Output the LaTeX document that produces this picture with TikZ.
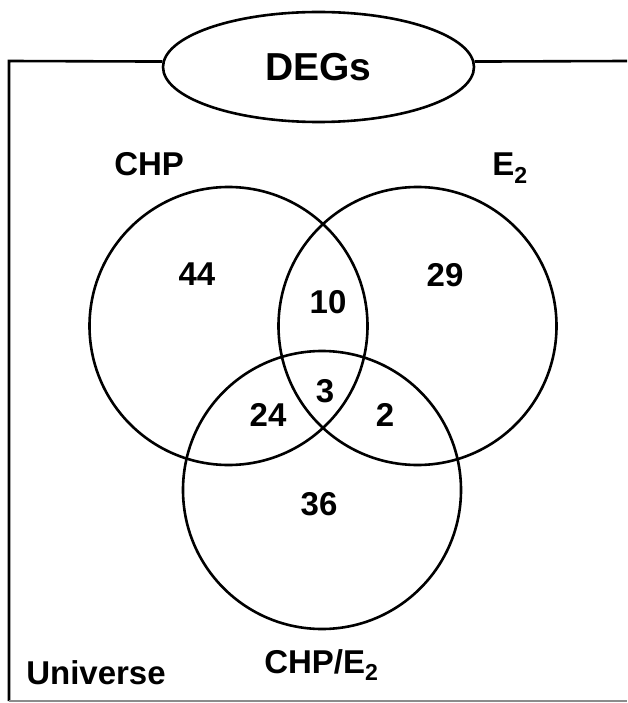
\documentclass[tikz,border=0pt]{standalone}
\usepackage{fontspec}
\setmainfont{Liberation Sans}
\usetikzlibrary{shapes.geometric}
\begin{document}
\begin{tikzpicture}[x=1pt,y=-1pt,
  line width=2.6pt,
  setcircle/.style={draw, circle, minimum size=278pt, inner sep=0pt},
  count/.style={inner sep=0pt, font=\fontsize{33}{33}\selectfont\bfseries},
  setlabel/.style={inner sep=0pt, anchor=base west, font=\fontsize{33}{33}\selectfont\bfseries},
  titlebox/.style={draw, ellipse, minimum width=311pt, minimum height=110pt, inner sep=0pt,
    font=\fontsize{39}{39}\selectfont\bfseries},
]
\useasboundingbox (0,0) rectangle (627,703);

% title ellipse and the universe frame
\node[titlebox] (degs) at (318.5,67) {DEGs};
\coordinate (tl) at (9,61);
\coordinate (bl) at (9,701);
\coordinate (tr) at (627,61);
\coordinate (br) at (627,701);
\draw (degs.178) -- (tl) -- (bl);
\draw (degs.2) -- (tr);
\draw[line width=1.4pt, black!45] (bl) -- (br);

% the three sets
\node[setcircle] (chp) at (228.5,326) {};
\node[setcircle] (e2)  at (417.5,326) {};
\node[setcircle] (both) at (322,490) {};

% set names
\node[setlabel] (lchp) at (113,175.5) {CHP};
\node[setlabel] (le2) at (491,175.5) {E\textsubscript{2}};
\node[setlabel] (lboth) at (263,673) {CHP/E\textsubscript{2}};
\node[setlabel] (luniv) at (25,684) {Universe};

% region counts
\node[count] (n44) at (197,274) {44};
\node[count] (n29) at (445,275) {29};
\node[count] (n10) at (328,302) {10};
\node[count] (n3)  at (325,391) {3};
\node[count] (n24) at (268,415) {24};
\node[count] (n2)  at (385,415) {2};
\node[count] (n36) at (319,504) {36};
\end{tikzpicture}
\end{document}
